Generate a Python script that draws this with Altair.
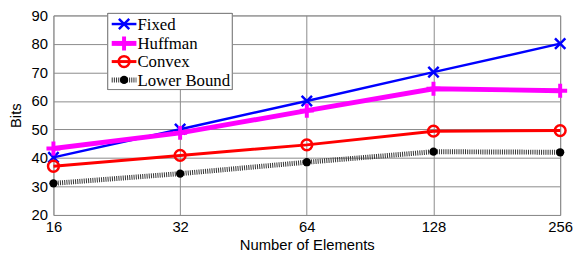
import altair as alt
import pandas as pd

elements = [16, 32, 64, 128, 256]
series_names = ["Fixed", "Huffman", "Convex", "Lower Bound"]
fixed = [40.2, 50.1, 60.0, 70.1, 80.1]
huffman = [43.3, 48.8, 56.6, 64.3, 63.6]
convex = [37.1, 40.9, 44.6, 49.4, 49.6]
lower = [31.1, 34.5, 38.5, 42.2, 42.0]
y_ticks = [20, 30, 40, 50, 60, 70, 80, 90]

values = {"Fixed": fixed, "Huffman": huffman, "Convex": convex, "Lower Bound": lower}
rows = []
for s in series_names:
    for e, v in zip(elements, values[s]):
        rows.append({"series": s, "elements": e, "bits": v})
df = pd.DataFrame(rows)

X_PATH = "M-1,-1L1,1M-1,1L1,-1"
PLUS_PATH = "M-1,0H1M0,-1V1"

styles = {
    "Fixed": dict(color="#0000FF", lw=2.5, dash=None, shape=X_PATH, size=110, filled=False, msw=2.5),
    "Huffman": dict(color="#FF00FF", lw=5, dash=None, shape=PLUS_PATH, size=200, filled=False, msw=4),
    "Convex": dict(color="#FF0000", lw=3, dash=None, shape="circle", size=120, filled=False, msw=2.5),
    "Lower Bound": dict(color="#333333", lw=5, dash=[1, 1.2], shape="circle", size=70, filled=True, msw=1),
}

x_enc = alt.X("elements:Q",
              scale=alt.Scale(type="log", base=2, domain=[16, 256], nice=False),
              axis=alt.Axis(values=elements, title="Number of Elements", grid=True,
                            gridColor="#8a8a8a", gridOpacity=1, domain=False, ticks=False,
                            labelPadding=5, titlePadding=3, labelFont="Liberation Sans",
                            titleFont="Liberation Sans", labelFontSize=15, titleFontSize=15,
                            titleFontWeight="normal", labelColor="black", titleColor="black",
                            labelFlush=False))
y_enc = alt.Y("bits:Q",
              scale=alt.Scale(domain=[20, 90], nice=False, zero=False),
              axis=alt.Axis(values=y_ticks, title="Bits", grid=True,
                            gridColor="#8a8a8a", gridOpacity=1, domain=False, ticks=False,
                            labelPadding=6, titlePadding=8, labelFont="Liberation Sans",
                            titleFont="Liberation Sans", labelFontSize=15, titleFontSize=15,
                            titleFontWeight="normal", labelColor="black", titleColor="black",
                            labelFlush=False))

layers = []
base = alt.Chart(df)
for s in series_names:
    st = styles[s]
    sub = base.transform_filter(alt.datum.series == s)
    line_kw = dict(color=st["color"], strokeWidth=st["lw"], clip=False)
    if st["dash"]:
        line_kw["strokeDash"] = st["dash"]
    layers.append(sub.mark_line(**line_kw).encode(x=x_enc, y=y_enc))
    pt_kw = dict(shape=st["shape"], size=st["size"], strokeWidth=st["msw"], opacity=1, clip=False)
    if st["filled"]:
        pt_kw.update(filled=True, color="black")
    else:
        pt_kw.update(filled=False, color=st["color"])
    layers.append(sub.mark_point(**pt_kw).encode(x=x_enc, y=y_enc))

# legend box
leg = alt.Chart(pd.DataFrame({"series": series_names}))
layers.append(leg.mark_rect(fill="white", stroke="#808080", strokeWidth=1).encode(
    x=alt.value(55), x2=alt.value(181), y=alt.value(-2), y2=alt.value(75)))
row_y = [8.7, 28.3, 46.7, 65.3]
for s, yy in zip(series_names, row_y):
    st = styles[s]
    one = leg.transform_filter(alt.datum.series == s)
    rk = dict(color=st["color"], strokeWidth=st["lw"])
    if st["dash"]:
        rk["strokeDash"] = st["dash"]
    layers.append(one.mark_rule(**rk).encode(
        x=alt.value(59), x2=alt.value(84), y=alt.value(yy)))
    pk = dict(shape=st["shape"], size=st["size"], strokeWidth=st["msw"], opacity=1)
    if st["filled"]:
        pk.update(filled=True, color="black")
    else:
        pk.update(filled=False, color=st["color"])
    layers.append(one.mark_point(**pk).encode(x=alt.value(71.5), y=alt.value(yy)))
    layers.append(one.mark_text(align="left", baseline="middle", font="Liberation Serif",
                                fontSize=17, color="black", dy=1).encode(
        x=alt.value(85), y=alt.value(yy), text="series:N"))

chart = alt.layer(*layers).properties(
    width=513, height=202,
    autosize=alt.AutoSizeParams(type="none"),
    padding={"left": 46, "top": 6, "right": 14, "bottom": 40},
).configure_view(stroke="#a0a0a0", strokeWidth=1)

chart.save("out.html", embed_options={"renderer": "svg", "actions": False})
